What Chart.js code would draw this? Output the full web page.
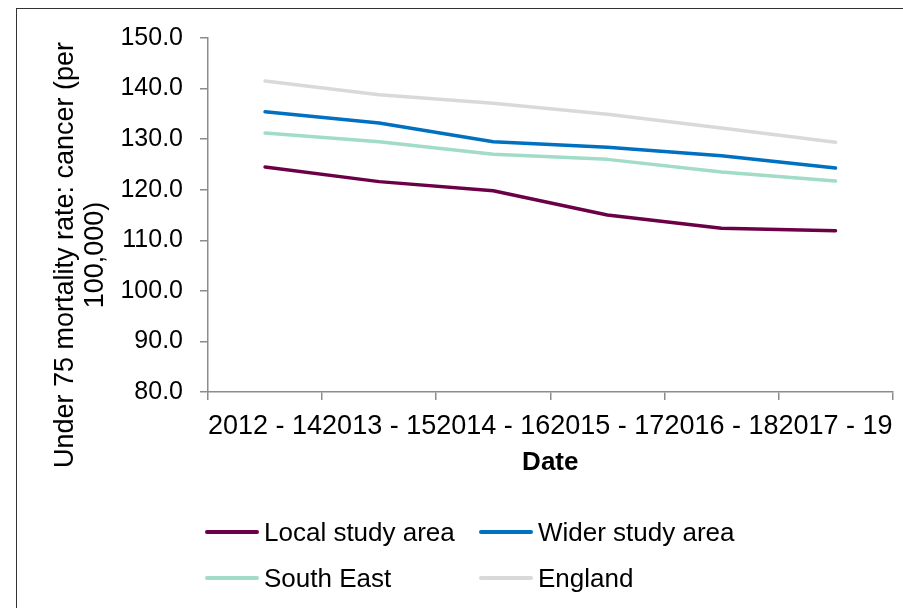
<!DOCTYPE html>
<html>
<head>
<meta charset="utf-8">
<title>Under 75 mortality rate: cancer</title>
<script src="https://cdn.jsdelivr.net/npm/chart.js@4"></script>
<style>
  html, body { margin: 0; padding: 0; background: #fff; }
  #wrap { position: relative; width: 903px; height: 608px; overflow: hidden; font-family: "Liberation Sans", Arial, sans-serif; }
  #frame { position: absolute; left: 16px; top: 8px; width: 1000px; height: 1000px; border-left: 1px solid #333; border-top: 1px solid #333; }
  #chart { position: absolute; left: 0; top: 0; }
  #legend { position: absolute; left: 205px; top: 513px; display: grid; grid-template-columns: 274px 260px; row-gap: 8px; }
  .item { display: flex; align-items: center; height: 38px; font-size: 26px; color: #000; }
  .swatch { width: 54px; height: 4px; border-radius: 2px; margin-right: 5px; }
</style>
</head>
<body>
<div id="wrap">
  <div id="frame"></div>
  <canvas id="chart" width="903" height="608"></canvas>
  <div id="legend"></div>
</div>
<script>
// Rolling three-year periods
const periods = ['2012 - 14', '2013 - 15', '2014 - 16', '2015 - 17', '2016 - 18', '2017 - 19'];

// Rate per 100,000, under 75s
const localArea = [124.5, 121.6, 119.8, 115.0, 112.4, 111.9];
const widerArea = [135.4, 133.2, 129.5, 128.4, 126.7, 124.3];
const southEast = [131.2, 129.5, 127.0, 126.0, 123.5, 121.7];
const england   = [141.5, 138.8, 137.1, 134.9, 132.2, 129.4];

const seriesNames = ['Local study area', 'Wider study area', 'South East', 'England'];
const seriesColours = ['#6b0047', '#0070c0', '#a0dcc6', '#d9d9d9'];

const yMin = 80, yMax = 150, yStep = 10;

const FONT = '"Liberation Sans", Arial, sans-serif';
const axisGrey = '#8c8c8c';

// axis titles drawn by hand so the rotated one can sit lower than the scale centre
const axisTitles = {
  id: 'axisTitles',
  afterDraw(chart) {
    const ctx = chart.ctx;
    const area = chart.chartArea;
    ctx.save();
    ctx.fillStyle = '#000';
    ctx.textAlign = 'center';
    ctx.textBaseline = 'middle';
    ctx.font = '27px ' + FONT;
    ctx.translate(81, 255);
    ctx.rotate(-Math.PI / 2);
    ctx.fillText('Under 75 mortality rate: cancer (per', 0, -15);
    ctx.fillText('100,000)', 0, 15);
    ctx.restore();

    ctx.save();
    ctx.fillStyle = '#000';
    ctx.textAlign = 'center';
    ctx.textBaseline = 'middle';
    ctx.font = 'bold 26px ' + FONT;
    ctx.fillText('Date', (area.left + area.right) / 2, 463);
    ctx.restore();
  }
};

const allSeries = [localArea, widerArea, southEast, england];

const datasets = allSeries.map((values, i) => ({
  label: seriesNames[i],
  data: values,
  borderColor: seriesColours[i],
  backgroundColor: seriesColours[i],
  borderWidth: 3.5,
  borderCapStyle: 'round',
  borderJoinStyle: 'round',
  pointRadius: 0,
  tension: 0,
  fill: false,
  order: i
}));

new Chart(document.getElementById('chart').getContext('2d'), {
  type: 'line',
  data: { labels: periods, datasets: datasets },
  options: {
    responsive: false,
    animation: false,
    layout: { padding: { left: 120, top: 38, right: 5, bottom: 156 } },
    plugins: {
      legend: { display: false },
      tooltip: { enabled: false }
    },
    scales: {
      x: {
        type: 'category',
        offset: true,
        grid: { offset: true, drawOnChartArea: false, tickLength: 8, color: axisGrey, lineWidth: 1.5 },
        border: { color: axisGrey, width: 1.5 },
        ticks: {
          autoSkip: false, maxRotation: 0, minRotation: 0, padding: 10,
          color: '#000', font: { family: FONT, size: 27 }
        },
        afterFit: s => { s.height = 60; }
      },
      y: {
        min: yMin,
        max: yMax,
        grid: { drawOnChartArea: false, tickLength: 8, color: axisGrey, lineWidth: 1.5 },
        border: { color: axisGrey, width: 1.5 },
        ticks: {
          stepSize: yStep, padding: 17, color: '#000',
          font: { family: FONT, size: 25 },
          callback: v => v.toFixed(1)
        },
        afterFit: s => { s.width = 88; }
      }
    }
  },
  plugins: [axisTitles]
});

// legend in two columns
const legend = document.getElementById('legend');
seriesNames.forEach((name, i) => {
  const item = document.createElement('div');
  item.className = 'item';
  const sw = document.createElement('span');
  sw.className = 'swatch';
  sw.style.background = seriesColours[i];
  item.appendChild(sw);
  item.appendChild(document.createTextNode(name));
  legend.appendChild(item);
});
</script>
</body>
</html>
